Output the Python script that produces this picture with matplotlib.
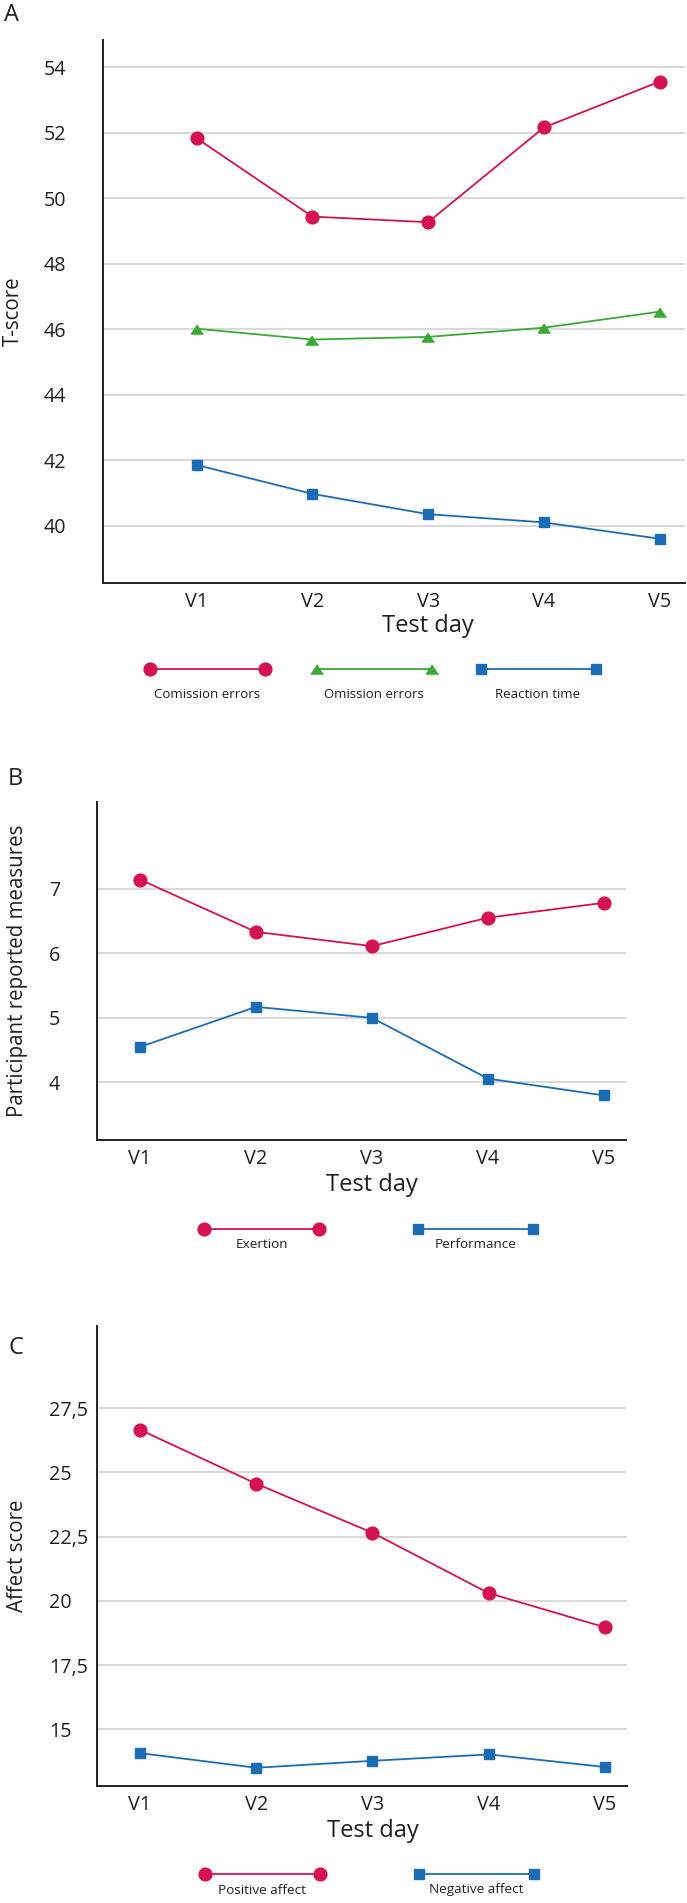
import numpy as np
import matplotlib.pyplot as plt

plt.rcParams['font.family'] = ['Open Sans', 'DejaVu Sans']
INK = '#231f20'

days = ['V1', 'V2', 'V3', 'V4', 'V5']

# panel A, T-scores
commission = [51.83, 49.44, 49.27, 52.16, 53.56]
omission = [46.02, 45.69, 45.77, 46.05, 46.54]
reaction = [41.86, 40.98, 40.36, 40.11, 39.61]
ticks_a = [40, 42, 44, 46, 48, 50, 52, 54]

# panel B, participant reported measures
exertion = [7.14, 6.33, 6.11, 6.55, 6.78]
performance = [4.55, 5.17, 5.00, 4.06, 3.80]
ticks_b = [4, 5, 6, 7]

# panel C, affect scores
positive = [26.66, 24.56, 22.65, 20.30, 18.97]
negative = [14.07, 13.50, 13.77, 14.02, 13.53]
ticks_c = [15, 17.5, 20, 22.5, 25, 27.5]
ticklabels_c = ['15', '17,5', '20', '22,5', '25', '27,5']

RED = '#d4124f'
GREEN = '#3aa935'
BLUE = '#1b6cb4'
tri = [(0, 0.75), (-1, -0.75), (1, -0.75)]
st_circle = dict(color=RED, marker='o', ms=9.2)
st_tri = dict(color=GREEN, marker=tri, ms=8.8)
st_square = dict(color=BLUE, marker='s', ms=7.0)

W, H = 687, 1903
fig = plt.figure(figsize=(W / 100, H / 100), dpi=100)


def px_axes(l, t, r, b):
    return fig.add_axes([l / W, 1 - b / H, (r - l) / W, (b - t) / H])


def panel(ax, series, xlim, ylim, yticks, yticklabels, ylabel, ypad, label_y):
    x = np.arange(len(days))
    for vals, st in series:
        ax.plot(x, vals, lw=1.3, mec=st['color'], zorder=3, **st)
    ax.set_xlim(*xlim)
    ax.set_ylim(*ylim)
    ax.set_xticks(x)
    ax.set_xticklabels(days, fontsize=14.3, color=INK)
    ax.set_yticks(yticks)
    ax.set_yticklabels(yticklabels, fontsize=14.2, color=INK)
    for lab in ax.get_yticklabels():
        lab.set_ha('left')
    ax.tick_params(axis='y', length=0, pad=ypad)
    ax.tick_params(axis='x', length=0, pad=6.5)
    for s in ['top', 'right']:
        ax.spines[s].set_visible(False)
    for s in ['left', 'bottom']:
        ax.spines[s].set_color(INK)
        ax.spines[s].set_linewidth(1.4)
    ax.yaxis.grid(True, color='#d6d6d6', lw=1.3)
    ax.set_axisbelow(True)
    ax.set_ylabel(ylabel, fontsize=14.8, color=INK, va='center')
    ax.yaxis.set_label_coords(label_y, 0.5)
    ax.set_xlabel('Test day', fontsize=17, color=INK)


# panel A
ax_a = px_axes(103, 40, 685, 583)
panel(ax_a, [(commission, st_circle), (omission, st_tri), (reaction, st_square)],
      (-0.81, 4.22), (38.26, 54.83), ticks_a, [str(t) for t in ticks_a],
      'T-score', 43, -90 / 582)
ax_a.xaxis.set_label_coords((2 + 0.81) / 5.03, -43 / 543)
ax_a.xaxis.label.set_va('center')

# panel B
ax_b = px_axes(97, 802, 626, 1140)
panel(ax_b, [(exertion, st_circle), (performance, st_square)],
      (-0.37, 4.19), (3.11, 8.34), ticks_b, [str(t) for t in ticks_b],
      'Participant reported measures', 34.5, -79 / 529)
ax_b.xaxis.set_label_coords((2 + 0.37) / 4.56, -45 / 338)
ax_b.xaxis.label.set_va('center')

# panel C
ax_c = px_axes(97, 1326, 627, 1786)
panel(ax_c, [(positive, st_circle), (negative, st_square)],
      (-0.37, 4.19), (12.79, 30.7), ticks_c, ticklabels_c,
      'Affect score', 34.5, -79 / 530)
ax_c.xaxis.set_label_coords((2 + 0.37) / 4.56, -45 / 460)
ax_c.xaxis.label.set_va('center')

# overlay in pixel coordinates for panel letters and legends
ov = fig.add_axes([0, 0, 1, 1])
ov.set_xlim(0, W)
ov.set_ylim(H, 0)
ov.axis('off')

for letter, (lx, ly) in zip('ABC', [(4, 15), (8, 779), (9, 1348)]):
    ov.text(lx, ly, letter, fontsize=17, color=INK, va='center', ha='left')


def legend_row(y_handle, y_text, centers, items, fs):
    for cx, (label, st) in zip(centers, items):
        ov.plot([cx - 57.5, cx + 57.5], [y_handle, y_handle], lw=1.3,
                mec=st['color'], **st)
        ov.text(cx, y_text, label, fontsize=fs, color=INK, ha='center', va='center')


legend_row(669, 694, [207.5, 374, 538],
           [('Comission errors', st_circle), ('Omission errors', st_tri),
            ('Reaction time', st_square)], 9.5)
legend_row(1228.5, 1245, [261.5, 475.5],
           [('Exertion', st_circle), ('Performance', st_square)], 9.7)
legend_row(1874, 1890, [262, 476],
           [('Positive affect', st_circle), ('Negative affect', st_square)], 9.7)

fig.savefig('out.png', dpi=100)
